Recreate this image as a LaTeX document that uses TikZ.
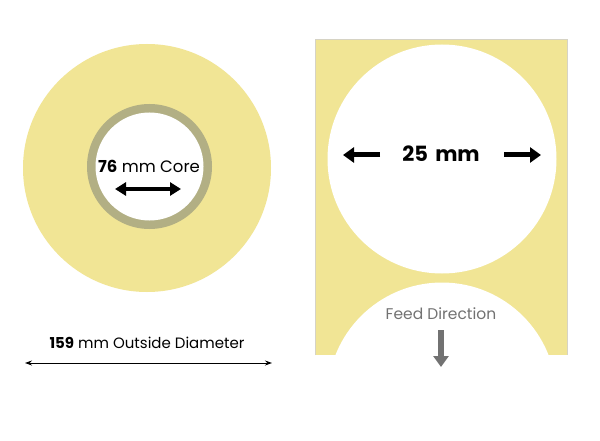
\documentclass[tikz,border=0pt]{standalone}
\usepackage{fontspec}
\setmainfont{Poppins}
\usetikzlibrary{arrows.meta}
\definecolor{labelyellow}{HTML}{F1E595}
\definecolor{coreolive}{HTML}{B2AF84}
\definecolor{feedgray}{HTML}{727272}
\definecolor{edgegray}{HTML}{D6D3C4}
\tikzset{
  bigarrow/.style={line width=5pt, -{Triangle[length=11pt,width=15pt]}},
  dblarrow/.style={line width=4pt, {Triangle[length=11pt,width=13pt]}-{Triangle[length=11pt,width=13pt]}},
  thinarrow/.style={line width=0.9pt, {Stealth[length=7pt,width=5pt]}-{Stealth[length=7pt,width=5pt]}},
  feedarrow/.style={feedgray, line width=6pt, -{Triangle[length=11pt,width=15pt]}},
  lbl/.style={inner sep=0pt, anchor=base}
}
\begin{document}
\begin{tikzpicture}[x=1pt,y=-1pt]
\useasboundingbox (0,0) rectangle (600,441);
\fill[white] (0,0) rectangle (600,441);
% roll
\fill[labelyellow] (147,168) circle (124);
\fill[coreolive] (149.5,166.5) circle (62.5);
\fill[white] (149.5,166.5) circle (54);
\node[lbl, font=\fontsize{16.5}{20}\selectfont] (core) at (149,172) {\textbf{76} mm Core};
\coordinate (cl) at (115,189);
\coordinate (cr) at (181,189);
\draw[dblarrow] (cl) -- (cr);
\node[lbl, font=\fontsize{15}{18}\selectfont] (od) at (147,348) {\textbf{159} mm Outside Diameter};
\coordinate (odl) at (25,363);
\coordinate (odr) at (272,363);
\draw[thinarrow] (odl) -- (odr);
% label panel
\begin{scope}
\clip (315,39) rectangle (567,355);
\fill[labelyellow] (315,39) rectangle (567,355);
\fill[white] (442,159) circle (114.5);
\fill[white] (442,397) circle (114.5);
\end{scope}
\draw[edgegray, line width=0.8pt] (315,355) -- (315,39) -- (567,39) -- (567,355);
\node[lbl, font=\fontsize{21}{25}\selectfont\bfseries] (size) at (441,161) {25\hspace{0.35em}mm};
\coordinate (la) at (380,155);
\coordinate (lt) at (343,155);
\coordinate (ra) at (504,155);
\coordinate (rt) at (541,155);
\draw[bigarrow] (la) -- (lt);
\draw[bigarrow] (ra) -- (rt);
\node[lbl, font=\fontsize{15.5}{18}\selectfont, text=feedgray] (feed) at (441,319) {Feed Direction};
\coordinate (fs) at (441,330);
\coordinate (fe) at (441,367);
\draw[feedarrow] (fs) -- (fe);
\end{tikzpicture}
\end{document}
